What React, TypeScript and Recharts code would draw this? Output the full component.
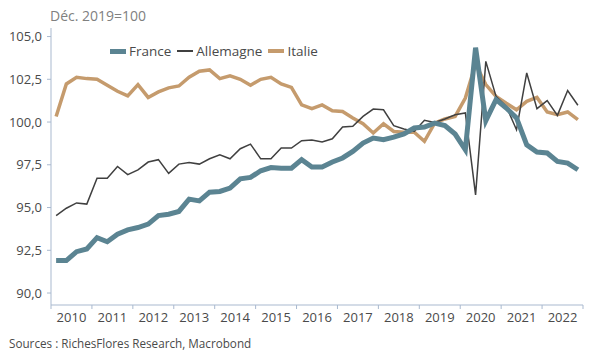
import React from 'react';
import { LineChart, Line, XAxis, YAxis } from 'recharts';

// Quarterly index, Déc. 2019 = 100, 2010Q1 .. 2022Q4
const years = ['2010', '2011', '2012', '2013', '2014', '2015', '2016', '2017', '2018', '2019', '2020', '2021', '2022'];

const france = [
  91.9, 91.9, 92.42, 92.58, 93.24, 93.0, 93.44, 93.69, 93.83, 94.03, 94.53, 94.61, 94.77,
  95.49, 95.39, 95.9, 95.94, 96.14, 96.68, 96.76, 97.15, 97.34, 97.3, 97.3, 97.8, 97.37, 97.37, 97.66,
  97.9, 98.28, 98.77, 99.06, 98.97, 99.12, 99.3, 99.65, 99.71, 99.94, 99.79, 99.3, 98.38,
  104.35, 100.08, 101.31, 100.82, 100.24, 98.67, 98.25, 98.19, 97.7, 97.6, 97.21,
];

const allemagne = [
  94.53, 94.96, 95.27, 95.2, 96.72, 96.72, 97.4, 96.92, 97.2, 97.66, 97.8, 97.0, 97.54,
  97.64, 97.54, 97.85, 98.09, 97.85, 98.44, 98.71, 97.85, 97.85, 98.48, 98.48, 98.91, 98.95, 98.83, 99.02,
  99.71, 99.75, 100.33, 100.76, 100.72, 99.79, 99.59, 99.45, 100.1, 99.98, 100.18, 100.43, 100.53,
  95.74, 103.55, 101.5, 100.92, 99.55, 102.87, 100.78, 101.25, 100.39, 101.84, 100.98,
];

const italie = [
  100.33, 102.23, 102.62, 102.54, 102.5, 102.15, 101.8, 101.53, 102.19, 101.44, 101.76, 102.0, 102.11,
  102.62, 102.97, 103.05, 102.54, 102.7, 102.5, 102.15, 102.5, 102.62, 102.23, 102.03, 101.0, 100.78, 101.0, 100.66,
  100.62, 100.24, 99.9, 99.36, 99.9, 99.45, 99.4, 99.4, 98.87, 99.94, 100.18, 100.33, 101.4,
  103.4, 102.19, 101.5, 101.1, 100.72, 101.21, 101.44, 100.59, 100.43, 100.59, 100.14,
];

const yTicks = [90, 92.5, 95, 97.5, 100, 102.5, 105];

const data = france.map((v, i) => ({
  t: i + 0.5,
  france: v,
  allemagne: allemagne[i],
  italie: italie[i],
}));

const FONT = '"Open Sans", sans-serif';
const TEXT = '#4a4a4a';
const AXIS = '#a9b9cf';
const C_FR = '#5b8492';
const C_DE = '#404040';
const C_IT = '#c59b6d';

// plot is 532px wide for 13 years -> half a year is ~20.5px
const HALF_YEAR = 532 / 13 / 2;

const YearTick = (props: any) => {
  const { x, y, payload } = props;
  const idx = Math.round(payload.value / 4);
  if (idx >= years.length) return <g />;
  return (
    <text x={x + HALF_YEAR} y={y} dy="0.71em" textAnchor="middle" fill={TEXT} fontSize={13} fontFamily={FONT}>
      {years[idx]}
    </text>
  );
};

const legendItems = [
  { name: 'France', color: C_FR, w: 5 },
  { name: 'Allemagne', color: C_DE, w: 1.5 },
  { name: 'Italie', color: C_IT, w: 3.5 },
];

export default function App() {
  return (
    <div style={{ position: 'absolute', left: 0, top: 0, width: 600, height: 360, background: '#fff', fontFamily: FONT }}>
      <div style={{ position: 'absolute', left: 50, top: 6, fontSize: 14, color: '#808080', lineHeight: '20px' }}>
        Déc. 2019=100
      </div>
      <div style={{ position: 'absolute', left: 110, top: 41, display: 'flex', alignItems: 'center', fontSize: 13.5, color: TEXT, lineHeight: '20px' }}>
        {legendItems.map((it) => (
          <div key={it.name} style={{ display: 'flex', alignItems: 'center', marginRight: 6 }}>
            <div style={{ width: 16, height: it.w, background: it.color, marginRight: 3 }} />
            <span>{it.name}</span>
          </div>
        ))}
      </div>
      <LineChart width={600} height={360} data={data} margin={{ top: 28, right: 17, bottom: 25, left: 0 }}>
        <XAxis
          dataKey="t"
          type="number"
          domain={[0, 52]}
          ticks={[0, 4, 8, 12, 16, 20, 24, 28, 32, 36, 40, 44, 48, 52]}
          tick={<YearTick />}
          tickSize={4}
          tickMargin={4}
          stroke={AXIS}
          height={30}
          interval={0}
        />
        <YAxis
          type="number"
          domain={[89.3, 105.5]}
          ticks={yTicks}
          tickFormatter={(v: number) => v.toFixed(1).replace('.', ',')}
          tickSize={4}
          tickMargin={5}
          width={51}
          stroke={AXIS}
          tick={{ fill: TEXT, fontSize: 13, fontFamily: FONT }}
          allowDataOverflow
        />
        <Line type="linear" dataKey="italie" stroke={C_IT} strokeWidth={3.5} dot={false} isAnimationActive={false} />
        <Line type="linear" dataKey="allemagne" stroke={C_DE} strokeWidth={1.5} dot={false} isAnimationActive={false} />
        <Line type="linear" dataKey="france" stroke={C_FR} strokeWidth={5} dot={false} isAnimationActive={false} />
      </LineChart>
      <div style={{ position: 'absolute', left: 9, top: 335, fontSize: 11.7, color: TEXT, lineHeight: '16px' }}>
        Sources : RichesFlores Research, Macrobond
      </div>
    </div>
  );
}
